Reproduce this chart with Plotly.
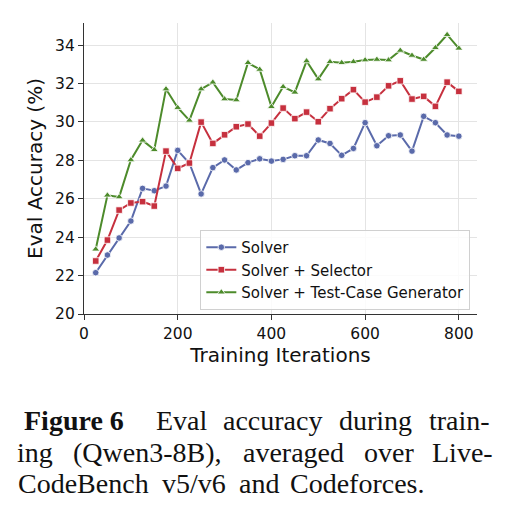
import plotly.graph_objects as go

iterations = [25, 50, 75, 100, 125, 150, 175, 200, 225, 250, 275, 300, 325, 350, 375, 400,
              425, 450, 475, 500, 525, 550, 575, 600, 625, 650, 675, 700, 725, 750, 775, 800]

solver = [22.15, 23.07, 23.96, 24.84, 26.54, 26.42, 26.66, 28.52, 27.85, 26.25, 27.62, 28.02,
          27.50, 27.88, 28.08, 27.96, 28.05, 28.24, 28.24, 29.06, 28.88, 28.26, 28.62, 29.96,
          28.76, 29.28, 29.32, 28.48, 30.29, 29.96, 29.32, 29.26]

solver_selector = [22.76, 23.85, 25.41, 25.78, 25.85, 25.62, 28.48, 27.58, 27.86, 29.99, 28.88, 29.33,
                   29.75, 29.89, 29.26, 29.94, 30.72, 30.17, 30.51, 30.01, 30.69, 31.21, 31.68, 31.03,
                   31.29, 31.88, 32.14, 31.19, 31.33, 30.81, 32.07, 31.59]

solver_testgen = [23.37, 26.18, 26.09, 28.02, 29.04, 28.55, 31.71, 30.74, 30.08, 31.71, 32.06, 31.19,
                  31.14, 33.08, 32.73, 30.79, 31.83, 31.54, 33.17, 32.23, 33.13, 33.08, 33.13, 33.22,
                  33.25, 33.22, 33.72, 33.46, 33.25, 33.86, 34.54, 33.83]

series_names = ["Solver", "Solver + Selector", "Solver + Test-Case Generator"]
x_ticks = [0, 200, 400, 600, 800]
y_ticks = [20, 22, 24, 26, 28, 30, 32, 34]

# caption lines: (word, center x px, bold)
caption_lines = [
    [("Figure 6", 73.5, True), ("Eval", 182, False), ("accuracy", 272.5, False),
     ("during", 375.5, False), ("train-", 459, False)],
    [("ing", 35, False), ("(Qwen3-8B),", 147, False), ("averaged", 293, False),
     ("over", 388.5, False), ("Live-", 462, False)],
    [("CodeBench", 83.5, False), ("v5/v6", 193.5, False), ("and", 259, False),
     ("Codeforces.", 357, False)],
]
caption_baselines = [430, 462, 493]

W, H = 509, 518
L, R, T, B = 84, 32, 23, 204
PW, PH = W - L - R, H - T - B

colors = ["#5a6aaa", "#c6303e", "#4d8b2b"]
symbols = ["circle", "square", "triangle-up"]
msizes = [6.5, 6.5, 7]

fig = go.Figure()
for name, ys, c, s, ms in zip(series_names, [solver, solver_selector, solver_testgen], colors, symbols, msizes):
    fig.add_trace(go.Scatter(
        x=iterations, y=ys, name=name, mode="lines+markers",
        line=dict(color=c, width=2),
        marker=dict(symbol=s, size=ms, color=c, line=dict(color="white", width=0.8)),
    ))

axis_common = dict(
    showline=True, linecolor="#333333", linewidth=1.3,
    ticks="outside", ticklen=5, tickwidth=1.2, tickcolor="#333333",
    showgrid=True, gridcolor="#e4e4e4", gridwidth=1, zeroline=False,
    tickfont=dict(family="DejaVu Sans", size=15.5, color="#111111"),
    mirror=False,
)

fig.update_layout(
    width=W, height=H,
    margin=dict(l=L, r=R, t=T, b=B, pad=0),
    paper_bgcolor="white", plot_bgcolor="white",
    xaxis=dict(range=[0, 838.75], tickvals=x_ticks,
               title=dict(text="Training Iterations", standoff=5,
                          font=dict(family="DejaVu Sans", size=20, color="#111111")),
               **axis_common),
    yaxis=dict(range=[20, 35.15], tickvals=y_ticks,
               title=dict(text="Eval Accuracy (%)", standoff=7,
                          font=dict(family="DejaVu Sans", size=20, color="#111111")),
               **axis_common),
    legend=dict(x=0.983, y=0.014, xanchor="right", yanchor="bottom",
                bgcolor="rgba(255,255,255,0.85)", bordercolor="#d0d0d0", borderwidth=1,
                font=dict(family="DejaVu Sans", size=15, color="#111111"),
                tracegroupgap=0),
    showlegend=True,
)

serif_size = 28
mid_offset = (0.891 - 0.216) / 2 * serif_size
for line, base in zip(caption_lines, caption_baselines):
    for word, cx, bold in line:
        fig.add_annotation(
            text=f"<b>{word}</b>" if bold else word,
            x=(cx - L) / PW, y=(T + PH - (base - mid_offset)) / PH,
            xref="paper", yref="paper", xanchor="center", yanchor="middle",
            showarrow=False, borderpad=0,
            font=dict(family="Liberation Serif", size=serif_size, color="#111111"),
        )

fig.write_html("out.html")
